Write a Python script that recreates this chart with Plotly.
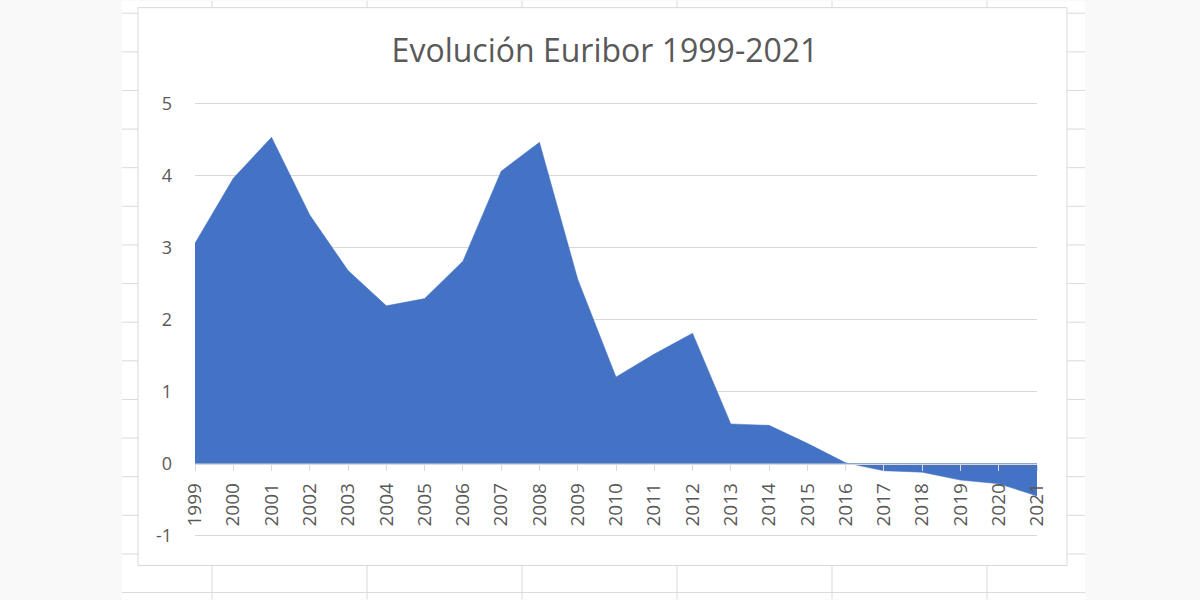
import plotly.graph_objects as go

years = list(range(1999, 2022))
euribor = [3.06, 3.96, 4.53, 3.45, 2.68, 2.19, 2.29, 2.81, 4.06, 4.46, 2.56,
           1.20, 1.52, 1.81, 0.55, 0.53, 0.28, 0.01, -0.10, -0.12, -0.23, -0.28, -0.45]
y_ticks = [-1, 0, 1, 2, 3, 4, 5]
y_tick_text = ["-1", "0", "1", "2", "3", "4", "5"]
title_text = "Evolución Euribor 1999-2021"

W, H = 1200, 600
Y_LO, Y_HI = -1.02, 5.02
UNIT = (536 - 103) / 6.0          # pixels per unit
T = 103 - (Y_HI - 5) * UNIT
B = H - (536 + (-1 - Y_LO) * UNIT)
L, R = 195, 1200 - 1037
PW, PH = W - L - R, H - T - B


def px(x):
    return (x - L) / PW


def py(y):
    return (H - B - y) / PH


shapes = []
# spreadsheet white area
shapes.append(dict(type="rect", xref="paper", yref="paper", x0=px(122), x1=px(1085),
                   y0=py(0), y1=py(600), fillcolor="white", line=dict(width=0), layer="below"))
# spreadsheet cell lines
for k in range(16):
    yy = 12.6 + 38.7 * k
    shapes.append(dict(type="line", xref="paper", yref="paper", x0=px(122), x1=px(1085),
                       y0=py(yy), y1=py(yy), line=dict(color="#dadada", width=1), layer="below"))
for xx in [212, 367, 522, 677, 832, 987]:
    shapes.append(dict(type="line", xref="paper", yref="paper", x0=px(xx), x1=px(xx),
                       y0=py(0), y1=py(600), line=dict(color="#dadada", width=1), layer="below"))
# chart box
shapes.append(dict(type="rect", xref="paper", yref="paper", x0=px(138), x1=px(1067),
                   y0=py(566), y1=py(7), fillcolor="white",
                   line=dict(color="#d9d9d9", width=1), layer="below"))

fig = go.Figure()
fig.add_trace(go.Scatter(x=years, y=euribor, mode="lines", fill="tozeroy",
                         fillcolor="#4472C4", line=dict(color="#4472C4", width=0.5),
                         hoverinfo="x+y", showlegend=False))

fig.update_layout(
    width=W, height=H,
    margin=dict(l=L, r=R, t=T, b=B, pad=0),
    paper_bgcolor="#f9f9f9",
    plot_bgcolor="rgba(0,0,0,0)",
    shapes=shapes,
    title=dict(text=title_text, x=px(605), xref="paper", xanchor="center",
               y=1 - 51 / H, yref="container", yanchor="middle",
               font=dict(family="Open Sans", size=32, color="#595959")),
    font=dict(family="Open Sans", color="#595959"),
    xaxis=dict(range=[1999, 2021], tickvals=years, ticktext=[str(v) for v in years],
               tickangle=-90, showgrid=False, zeroline=False,
               showline=True, linecolor="#d9d9d9", linewidth=1,
               ticks="outside", ticklen=6, tickcolor="#d9d9d9",
               anchor="free", position=(0 - Y_LO) / (Y_HI - Y_LO),
               ticklabelstandoff=5,
               tickfont=dict(family="Open Sans", size=19, color="#595959")),
    yaxis=dict(range=[Y_LO, Y_HI], tickvals=y_ticks, ticktext=y_tick_text,
               showgrid=True, gridcolor="#d9d9d9",
               gridwidth=1, zeroline=False, showline=False, ticks="",
               ticklabelstandoff=22,
               tickfont=dict(family="Open Sans", size=18, color="#595959")),
)

fig.write_html("out.html",
               config={"displayModeBar": False},
               post_script="document.body.style.margin='0';"
                           "document.body.style.background='#f9f9f9';")
